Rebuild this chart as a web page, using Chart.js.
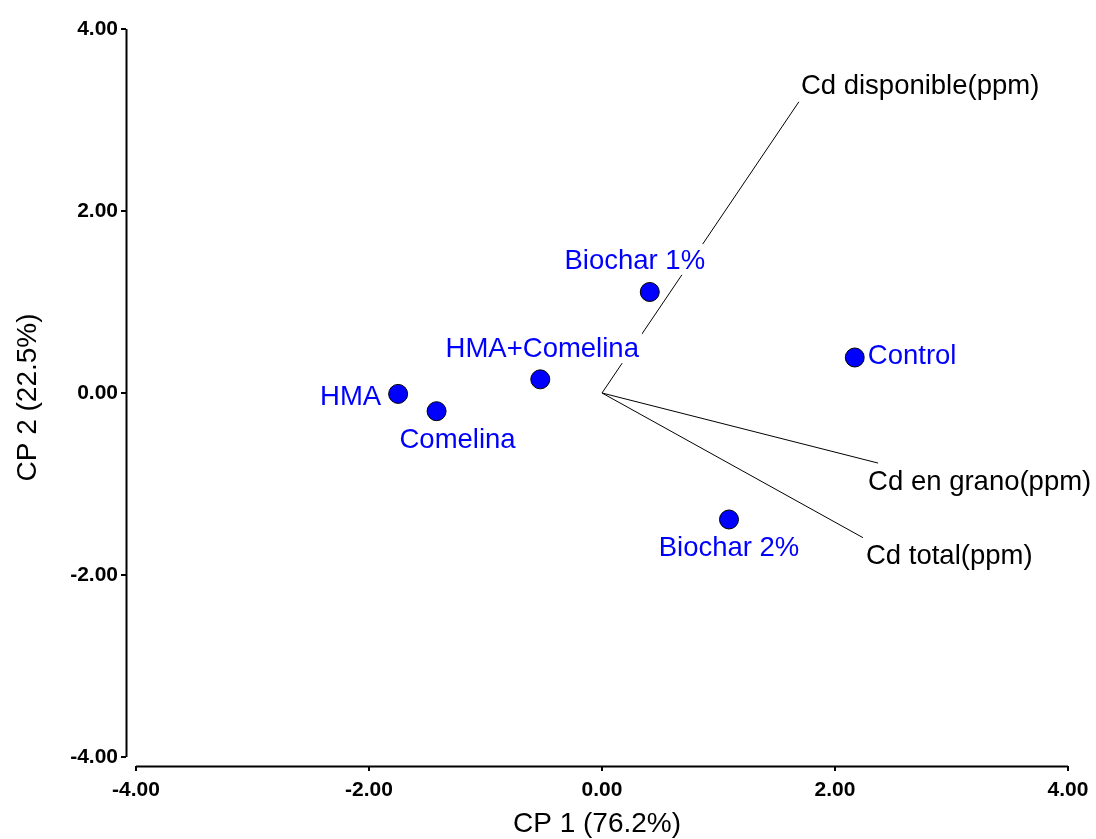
<!DOCTYPE html>
<html>
<head>
<meta charset="utf-8">
<script src="https://cdn.jsdelivr.net/npm/chart.js@4.4.1/dist/chart.umd.min.js"></script>
<style>
  html, body { margin: 0; padding: 0; background: #ffffff; }
  #wrap { width: 1096px; height: 839px; }
</style>
</head>
<body>
<div id="wrap"><canvas id="c" width="1096" height="839"></canvas></div>
<script>
// ---- data ----
const categories = ['Control', 'Biochar 1%', 'Biochar 2%', 'HMA', 'Comelina', 'HMA+Comelina'];
const cp1 = [2.17, 0.41, 1.09, -1.75, -1.42, -0.53];
const cp2 = [0.39, 1.11, -1.39, -0.01, -0.20, 0.15];
const variables = ['Cd disponible(ppm)', 'Cd en grano(ppm)', 'Cd total(ppm)'];
const varCp1 = [1.69, 2.37, 2.24];
const varCp2 = [3.20, -0.77, -1.59];
const xTicks = [-4, -2, 0, 2, 4];
const yTicks = [-4, -2, 0, 2, 4];
const xTitle = 'CP 1 (76.2%)';
const yTitle = 'CP 2 (22.5%)';

// ---- label placement (pixel offsets from the mark) ----
const pointLabelLayout = [
  { dx: 13, dy: 6, align: 'left' },     // Control
  { dx: -15, dy: -23, align: 'center' }, // Biochar 1%
  { dx: 0, dy: 37, align: 'center' },   // Biochar 2%
  { dx: -17, dy: 11, align: 'right' },  // HMA
  { dx: 21, dy: 37, align: 'center' },  // Comelina
  { dx: 2, dy: -22, align: 'center' }   // HMA+Comelina
];
const varLabelLayout = [
  { dx: 2, dy: -8, align: 'left' },
  { dx: -10, dy: 27, align: 'left' },
  { dx: 3, dy: 26, align: 'left' }
];

const FONT = "'Liberation Sans', Arial, sans-serif";
Chart.defaults.font.family = FONT;

const vectorDatasets = variables.map((name, i) => ({
  type: 'scatter',
  label: name,
  data: [{ x: 0, y: 0 }, { x: varCp1[i], y: varCp2[i] }],
  showLine: true,
  borderColor: '#000000',
  borderWidth: 1,
  pointRadius: 0,
  fill: false,
  order: 2
}));

const pointDataset = {
  type: 'scatter',
  label: 'tratamientos',
  data: categories.map((c, i) => ({ x: cp1[i], y: cp2[i] })),
  pointRadius: 9.5,
  pointHoverRadius: 9.5,
  backgroundColor: '#0000FF',
  borderColor: '#000000',
  borderWidth: 1,
  order: 1
};

function drawLabel(ctx, text, x, y, align, color) {
  ctx.save();
  ctx.font = '27.5px ' + FONT;
  const w = ctx.measureText(text).width;
  let left = x;
  if (align === 'center') left = x - w / 2;
  else if (align === 'right') left = x - w;
  const asc = 27.5 * 0.905, desc = 27.5 * 0.212;
  ctx.fillStyle = '#ffffff';
  ctx.fillRect(left - 3, y - asc, w + 6, asc + desc);
  ctx.fillStyle = color;
  ctx.textAlign = 'left';
  ctx.textBaseline = 'alphabetic';
  ctx.fillText(text, left, y);
  ctx.restore();
}

const biplotPlugin = {
  id: 'biplot',
  beforeDatasetsDraw(chart) {
    const { ctx, scales: { x, y } } = chart;
    ctx.save();
    ctx.strokeStyle = '#000000';
    ctx.lineWidth = 2;
    ctx.beginPath();
    const ax = chart.chartArea.left + 0.5;
    ctx.moveTo(ax, y.getPixelForValue(yTicks[yTicks.length - 1]));
    ctx.lineTo(ax, y.getPixelForValue(yTicks[0]));
    const ay = chart.chartArea.bottom + 0.5;
    ctx.moveTo(x.getPixelForValue(xTicks[0]), ay);
    ctx.lineTo(x.getPixelForValue(xTicks[xTicks.length - 1]), ay);
    ctx.stroke();
    ctx.restore();
  },
  afterDatasetsDraw(chart) {
    const { ctx, scales: { x, y } } = chart;
    variables.forEach((name, i) => {
      const px = x.getPixelForValue(varCp1[i]);
      const py = y.getPixelForValue(varCp2[i]);
      const l = varLabelLayout[i];
      drawLabel(ctx, name, px + l.dx, py + l.dy, l.align, '#000000');
    });
    categories.forEach((name, i) => {
      const px = x.getPixelForValue(cp1[i]);
      const py = y.getPixelForValue(cp2[i]);
      const l = pointLabelLayout[i];
      drawLabel(ctx, name, px + l.dx, py + l.dy, l.align, '#0000FF');
    });
  }
};

new Chart(document.getElementById('c'), {
  type: 'scatter',
  data: { datasets: [...vectorDatasets, pointDataset] },
  options: {
    responsive: false,
    devicePixelRatio: 1,
    animation: false,
    events: [],
    layout: { padding: { left: 0, right: 28, top: 29, bottom: 0 } },
    plugins: { legend: { display: false }, tooltip: { enabled: false } },
    scales: {
      x: {
        type: 'linear',
        position: 'bottom',
        min: -4.086,
        max: 4,
        afterBuildTicks: (s) => { s.ticks = xTicks.map(v => ({ value: v })); },
        afterFit: (s) => { s.height = 73; s.paddingLeft = 0; s.paddingRight = 0; },
        border: { display: false },
        grid: { drawOnChartArea: false, drawTicks: true, tickLength: 5, color: '#000000', lineWidth: 2 },
        ticks: {
          padding: 7,
          color: '#000000',
          font: { size: 21, weight: 'bold', family: FONT },
          maxRotation: 0,
          callback: (v) => Number(v).toFixed(2)
        },
        title: {
          display: true,
          text: xTitle,
          color: '#000000',
          font: { size: 28, family: FONT, lineHeight: 1.05 },
          padding: { top: 0, bottom: 0 }
        }
      },
      y: {
        type: 'linear',
        position: 'left',
        min: -4.099,
        max: 4,
        afterBuildTicks: (s) => { s.ticks = yTicks.map(v => ({ value: v })); },
        afterFit: (s) => { s.width = 126; s.paddingTop = 0; s.paddingBottom = 0; },
        border: { display: false },
        grid: { drawOnChartArea: false, drawTicks: true, tickLength: 5, color: '#000000', lineWidth: 2 },
        ticks: {
          padding: 3,
          color: '#000000',
          font: { size: 21, weight: 'bold', family: FONT },
          callback: (v) => Number(v).toFixed(2)
        },
        title: {
          display: true,
          text: yTitle,
          color: '#000000',
          font: { size: 28, family: FONT, lineHeight: 1.05 },
          padding: { top: 14, bottom: 0 }
        }
      }
    }
  },
  plugins: [biplotPlugin]
});
</script>
</body>
</html>
